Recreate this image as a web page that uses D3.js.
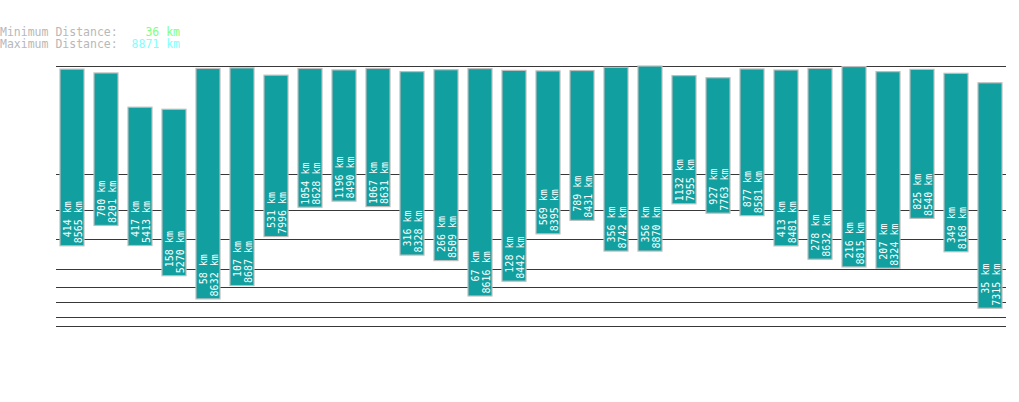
<!DOCTYPE html>
<html>
<head>
<meta charset="utf-8">
<script src="https://cdn.jsdelivr.net/npm/d3@7/dist/d3.min.js"></script>
<style>
  html, body { margin: 0; padding: 0; background: #ffffff; }
  svg { display: block; }
  text { font-family: "DejaVu Sans Mono", "Liberation Mono", monospace; white-space: pre; }
</style>
</head>
<body>
<svg id="chart" width="1019" height="402"></svg>
<script>
// ---- data ----
const minDistances = [414, 700, 417, 158, 58, 107, 531, 1054, 1196, 1067, 316, 266, 67, 128,
                      569, 789, 356, 356, 1132, 927, 877, 413, 278, 216, 207, 825, 349, 35];
const maxDistances = [8565, 8201, 5413, 5270, 8632, 8687, 7996, 8628, 8490, 8631, 8328, 8509, 8616, 8442,
                      8395, 8431, 8742, 8870, 7955, 7763, 8581, 8481, 8632, 8815, 8324, 8540, 8168, 7315];
const gridValues = [10, 20, 50, 100, 200, 500, 1000, 2000, 8871];
const overallMin = 36;
const overallMax = 8871;

// ---- layout ----
const svg = d3.select("#chart");
const idx = d3.range(minDistances.length);

const x = d3.scaleBand()
  .domain(idx)
  .range([55, 1007])
  .paddingInner(10 / 34)
  .paddingOuter(5 / 34);

const y = d3.scalePow()
  .exponent(0.3)
  .domain([10, overallMax])
  .range([326, 66]);

// header
const header = svg.append("g").attr("font-size", "11.5px");
const l1 = header.append("text").attr("xml:space", "preserve").attr("x", 0).attr("y", 35.5);
l1.append("tspan").attr("xml:space", "preserve").attr("fill", "#b8b8b8").text("Minimum Distance:  ");
l1.append("tspan").attr("xml:space", "preserve").attr("fill", "#80ff80").text(String(overallMin).padStart(4) + " km");
const l2 = header.append("text").attr("xml:space", "preserve").attr("x", 0).attr("y", 47.5);
l2.append("tspan").attr("xml:space", "preserve").attr("fill", "#b8b8b8").text("Maximum Distance:  ");
l2.append("tspan").attr("xml:space", "preserve").attr("fill", "#80ffff").text(String(overallMax).padStart(4) + " km");

// grid lines
svg.append("g")
  .selectAll("line")
  .data(gridValues)
  .join("line")
  .attr("x1", 56)
  .attr("x2", 1006)
  .attr("y1", d => Math.round(y(d)) + 0.5)
  .attr("y2", d => Math.round(y(d)) + 0.5)
  .attr("stroke", "#383838")
  .attr("stroke-width", 1.2);

// bars
const bars = svg.append("g")
  .selectAll("g")
  .data(idx)
  .join("g");

bars.append("rect")
  .attr("x", i => x(i))
  .attr("y", i => y(maxDistances[i]))
  .attr("width", x.bandwidth())
  .attr("height", i => y(minDistances[i]) - y(maxDistances[i]))
  .attr("fill", "#119f9f")
  .attr("stroke", "#bdbdbd")
  .attr("stroke-width", 1.2);

const labels = [
  { get: i => String(minDistances[i]).padStart(4) + " km", dx: -1.5 },
  { get: i => String(maxDistances[i]).padStart(4) + " km", dx: 9.5 }
];

labels.forEach(lab => {
  bars.append("text")
    .attr("xml:space", "preserve")
    .attr("transform", i => {
      const cx = x(i) + x.bandwidth() / 2 + lab.dx;
      const by = y(minDistances[i]) - 2.5;
      return `translate(${cx},${by}) rotate(-90)`;
    })
    .attr("fill", "#ffffff")
    .attr("font-size", "10px")
    .text(i => lab.get(i));
});
</script>
</body>
</html>
